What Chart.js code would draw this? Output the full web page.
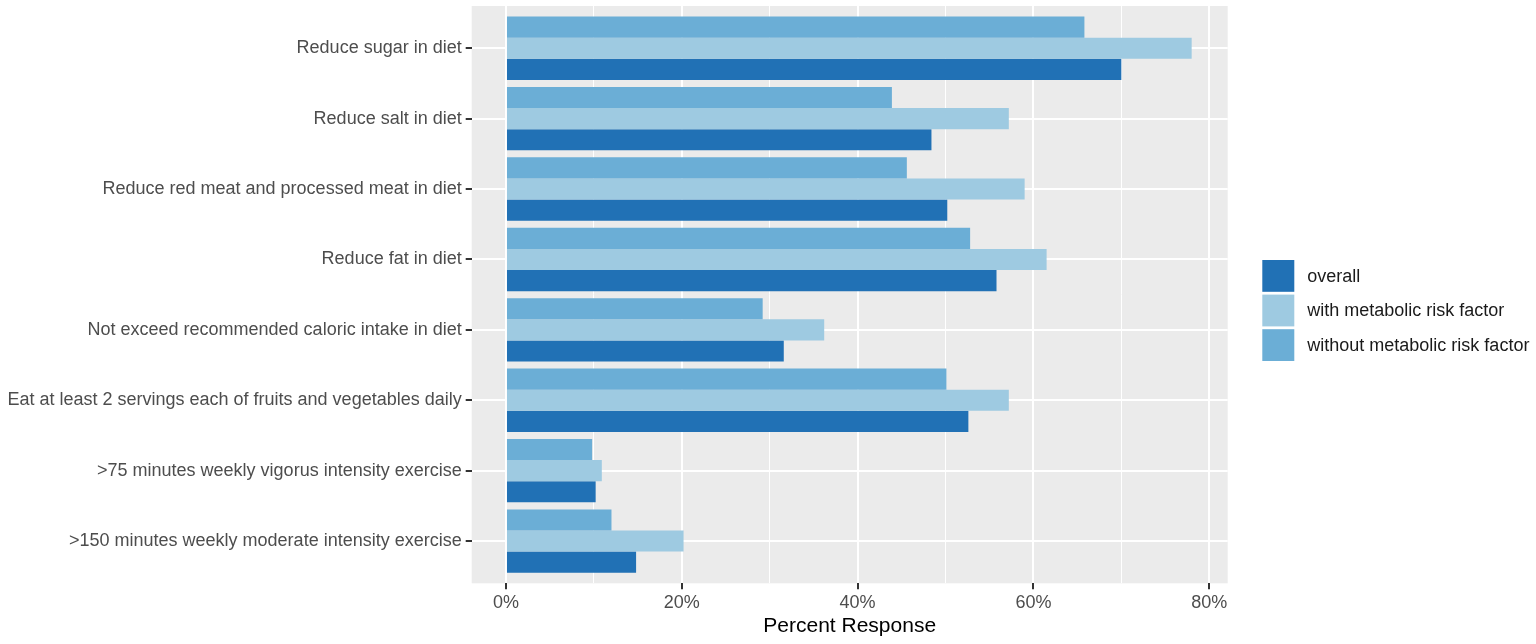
<!DOCTYPE html>
<html>
<head>
<meta charset="utf-8">
<title>Percent Response</title>
<script src="https://cdn.jsdelivr.net/npm/chart.js@4.4.1/dist/chart.umd.min.js"></script>
<style>
  html, body { margin: 0; padding: 0; background: #ffffff; }
  #wrap { width: 1536px; height: 644px; }
</style>
</head>
<body>
<div id="wrap"><canvas id="chart" width="1536" height="644"></canvas></div>
<script>
// categories, top to bottom
const categories = [
  'Reduce sugar in diet',
  'Reduce salt in diet',
  'Reduce red meat and processed meat in diet',
  'Reduce fat in diet',
  'Not exceed recommended caloric intake in diet',
  'Eat at least 2 servings each of fruits and vegetables daily',
  '>75 minutes weekly vigorus intensity exercise',
  '>150 minutes weekly moderate intensity exercise'
];

// percent values
const overall     = [70.0, 48.4, 50.2, 55.8, 31.6, 52.6, 10.2, 14.8];
const withRisk    = [78.0, 57.2, 59.0, 61.5, 36.2, 57.2, 10.9, 20.2];
const withoutRisk = [65.8, 43.9, 45.6, 52.8, 29.2, 50.1,  9.8, 12.0];

const seriesNames = ['overall', 'with metabolic risk factor', 'without metabolic risk factor'];
const xTicks = [0, 10, 20, 30, 40, 50, 60, 70, 80];

const colOverall = '#2171b5';
const colWith = '#9ecae1';
const colWithout = '#6baed6';

Chart.defaults.font.family = '"Liberation Sans", Arial, Helvetica, sans-serif';

// grey ggplot-like panel
const panelBg = {
  id: 'panelBg',
  beforeDraw(chart) {
    const a = chart.chartArea;
    const ctx = chart.ctx;
    ctx.save();
    ctx.fillStyle = '#ebebeb';
    ctx.fillRect(a.left, a.top, a.right - a.left, a.bottom - a.top);
    ctx.restore();
  }
};

// legend on the right, drawn by hand so it sits like the original
const sideLegend = {
  id: 'sideLegend',
  afterDraw(chart) {
    const ctx = chart.ctx;
    const x0 = chart.chartArea.right + 34.6;
    const size = 31.8;
    const step = 34.6;
    let y = 260;
    // legend order: overall, with, without (datasets are stored the other way round)
    const items = chart.data.datasets.slice().reverse();
    ctx.save();
    ctx.font = '18px "Liberation Sans", Arial, sans-serif';
    ctx.textBaseline = 'middle';
    ctx.textAlign = 'left';
    items.forEach(ds => {
      ctx.fillStyle = ds.backgroundColor;
      ctx.fillRect(x0, y, 32, size);
      ctx.fillStyle = '#1a1a1a';
      ctx.fillText(ds.label, x0 + 45, y + size / 2 + 1);
      y += step;
    });
    ctx.restore();
  }
};

const ctx = document.getElementById('chart');

new Chart(ctx, {
  type: 'bar',
  data: {
    labels: categories,
    datasets: [
      { label: seriesNames[2], data: withoutRisk, backgroundColor: colWithout },
      { label: seriesNames[1], data: withRisk, backgroundColor: colWith },
      { label: seriesNames[0], data: overall, backgroundColor: colOverall }
    ]
  },
  options: {
    indexAxis: 'y',
    responsive: false,
    animation: false,
    devicePixelRatio: 1,
    categoryPercentage: 0.9,
    barPercentage: 1.0,
    layout: { padding: { top: 6, right: 308.3, left: 0, bottom: 0 } },
    plugins: {
      legend: { display: false },
      tooltip: { enabled: false }
    },
    scales: {
      x: {
        type: 'linear',
        min: -3.9,
        max: 82.1,
        afterBuildTicks: s => { s.ticks = xTicks.map(v => ({ value: v })); },
        afterFit: s => { s.height = 60.7; s.paddingLeft = 0; s.paddingRight = 0; },
        border: { display: false },
        grid: {
          color: '#ffffff',
          lineWidth: c => (c.tick && c.tick.value % 20 === 0) ? 2 : 1,
          tickColor: c => (c.tick && c.tick.value % 20 === 0) ? '#333333' : 'rgba(0,0,0,0)',
          tickWidth: 2,
          tickLength: 6
        },
        ticks: {
          autoSkip: false,
          maxRotation: 0,
          padding: 3,
          color: '#4d4d4d',
          font: { size: 18 },
          callback: v => (v % 20 === 0) ? v + '%' : ''
        },
        title: {
          display: true,
          text: 'Percent Response',
          color: '#000000',
          font: { size: 21 },
          padding: { top: 0, bottom: 5 }
        }
      },
      y: {
        type: 'category',
        offset: true,
        // ggplot leaves 0.6 of a category free at each end
        afterBuildTicks: s => { s._startValue = -0.6; s._valueRange = categories.length - 1 + 1.2; },
        afterFit: s => { s.width = 471.7; s.paddingTop = 0; s.paddingBottom = 0; },
        border: { display: false },
        grid: {
          offset: false,
          color: '#ffffff',
          lineWidth: 2,
          tickColor: '#333333',
          tickWidth: 2,
          tickLength: 6
        },
        ticks: {
          autoSkip: false,
          padding: 4,
          color: '#4d4d4d',
          font: { size: 18 }
        }
      }
    }
  },
  plugins: [panelBg, sideLegend]
});
</script>
</body>
</html>
